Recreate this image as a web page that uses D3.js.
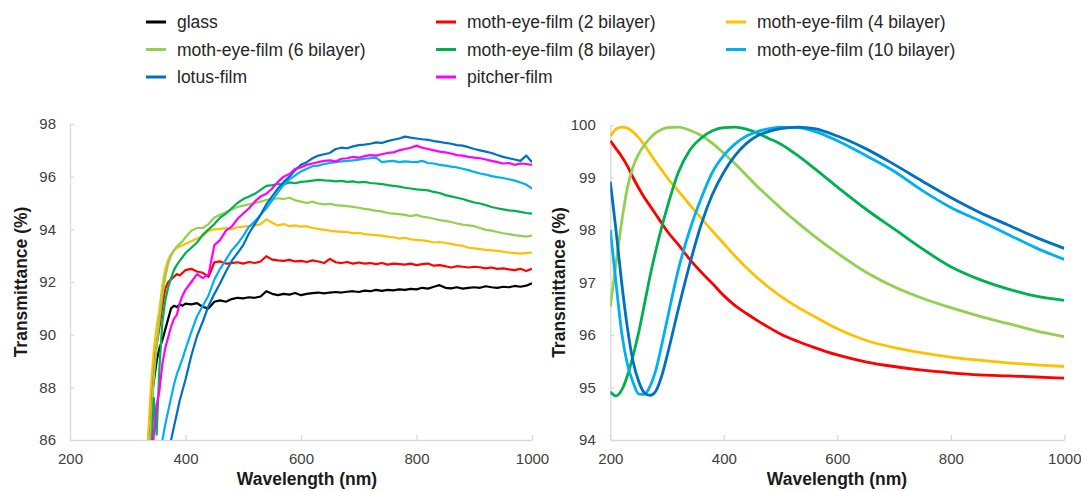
<!DOCTYPE html>
<html><head><meta charset="utf-8">
<script src="https://cdn.jsdelivr.net/npm/d3@7"></script>
<style>body{margin:0;background:#fff}svg{display:block}</style>
</head><body>
<svg id="chart" width="1081" height="491"></svg>
<script>
// ---------- DATA ----------
const seriesNames = ["glass", "moth-eye-film (2 bilayer)", "moth-eye-film (4 bilayer)",
  "moth-eye-film (6 bilayer)", "moth-eye-film (8 bilayer)", "moth-eye-film (10 bilayer)",
  "lotus-film", "pitcher-film"];
const xTickValues = [200, 400, 600, 800, 1000];
const leftYTicks = [86, 88, 90, 92, 94, 96, 98];
const rightYTicks = [94, 95, 96, 97, 98, 99, 100];

// measured spectra (left panel)
const measWavelength = [335,340,345,350,355,360,365,370,375,380,385,390,395,
  400,410,420,430,440,450,460,470,480,490,
  500,510,520,530,540,550,560,570,580,590,
  600,610,620,630,640,650,660,670,680,690,
  700,710,720,730,740,750,760,770,780,790,
  800,810,820,830,840,850,860,870,880,890,
  900,910,920,930,940,950,960,970,980,990,1000];
const glassMeas = [85.8,87.4,88.2,89.0,89.5,89.8,90.2,90.6,91.0,91.1,91.05,91.15,91.1,
  91.18,91.15,91.20,91.05,91.00,91.25,91.30,91.25,91.35,91.40,
  91.38,91.42,91.40,91.45,91.65,91.55,91.50,91.55,91.52,91.58,
  91.50,91.55,91.58,91.60,91.57,91.60,91.62,91.60,91.63,91.65,
  91.62,91.67,91.65,91.70,91.66,91.70,91.68,91.72,91.70,91.74,
  91.72,91.78,91.75,91.82,91.88,91.78,91.76,91.80,91.75,91.78,
  91.80,91.78,91.84,91.80,91.78,91.82,91.80,91.85,91.82,91.86,91.95];
const moth2Meas = [85.5,87.5,89.0,89.6,90.3,91.1,91.75,92.0,92.1,92.2,92.3,92.25,92.35,
  92.45,92.50,92.40,92.35,92.20,92.75,92.78,92.70,92.72,92.75,
  92.70,92.76,92.72,92.78,92.98,92.85,92.82,92.80,92.84,92.78,
  92.80,92.76,92.82,92.78,92.72,92.88,92.75,92.72,92.76,92.70,
  92.74,92.70,92.72,92.68,92.72,92.66,92.70,92.68,92.66,92.70,
  92.64,92.68,92.70,92.62,92.64,92.60,92.55,92.60,92.58,92.55,
  92.58,92.56,92.52,92.55,92.50,92.52,92.48,92.45,92.50,92.42,92.50];
const moth4Meas = [86.0,88.0,89.4,90.3,91.0,91.9,92.5,92.85,93.05,93.2,93.3,93.35,93.4,
  93.45,93.55,93.65,93.75,93.95,94.00,94.02,94.05,94.00,94.08,
  94.10,94.12,94.15,94.20,94.38,94.25,94.15,94.20,94.12,94.15,
  94.10,94.12,94.05,94.02,93.98,93.95,93.92,93.90,93.90,93.85,
  93.87,93.82,93.80,93.78,93.76,93.72,93.70,93.65,93.68,93.62,
  93.60,93.58,93.55,93.50,93.52,93.48,93.45,93.40,93.38,93.30,
  93.28,93.25,93.22,93.20,93.18,93.15,93.12,93.10,93.08,93.10,93.12];
const moth6Meas = [84.5,86.5,88.3,89.6,90.6,91.5,92.2,92.7,93.0,93.2,93.35,93.45,93.55,
  93.70,93.95,94.05,94.05,94.20,94.45,94.55,94.65,94.75,94.85,
  94.90,94.95,95.00,95.05,95.12,95.15,95.18,95.15,95.20,95.10,
  95.05,95.00,95.05,94.98,94.95,94.97,94.92,94.90,94.88,94.85,
  94.82,94.78,94.75,94.70,94.68,94.62,94.60,94.58,94.55,94.50,
  94.55,94.48,94.45,94.40,94.35,94.32,94.28,94.22,94.18,94.15,
  94.12,94.05,93.98,93.95,93.90,93.85,93.82,93.78,93.75,93.72,93.76];
const moth8Meas = [84.0,85.0,87.6,86.2,88.8,90.5,91.3,91.8,92.15,92.45,92.65,92.8,92.95,
  93.10,93.30,93.50,93.80,94.00,94.20,94.45,94.60,94.80,95.00,
  95.15,95.25,95.35,95.50,95.65,95.68,95.72,95.70,95.78,95.75,
  95.80,95.82,95.85,95.88,95.86,95.85,95.82,95.84,95.80,95.82,
  95.78,95.80,95.76,95.74,95.72,95.68,95.65,95.62,95.58,95.55,
  95.52,95.50,95.48,95.42,95.38,95.30,95.25,95.20,95.15,95.08,
  95.02,94.98,94.92,94.85,94.80,94.76,94.72,94.70,94.66,94.62,94.60];
const moth10Meas = [82.0,83.0,84.0,85.0,85.5,86.0,86.6,87.1,87.6,88.1,88.5,88.8,89.1,
  89.45,90.10,90.70,91.10,91.50,92.10,92.50,92.85,93.20,93.45,
  93.75,94.10,94.30,94.55,94.80,95.10,95.40,95.70,95.90,96.05,
  96.20,96.30,96.40,96.42,96.48,96.52,96.55,96.58,96.60,96.62,
  96.65,96.68,96.70,96.72,96.55,96.58,96.60,96.55,96.58,96.56,
  96.55,96.60,96.52,96.50,96.45,96.42,96.38,96.35,96.30,96.25,
  96.18,96.12,96.08,96.02,95.98,95.95,95.90,95.85,95.78,95.70,95.55];
const lotusMeas = [80.0,81.0,82.0,83.0,84.0,84.7,85.2,85.6,86.0,86.5,87.0,87.5,87.9,
  88.30,89.20,89.95,90.50,91.10,91.55,91.95,92.40,92.80,93.10,
  93.40,93.85,94.20,94.55,94.95,95.25,95.55,95.80,96.00,96.25,
  96.45,96.55,96.70,96.80,96.85,96.90,97.05,97.10,97.08,97.15,
  97.20,97.22,97.25,97.30,97.28,97.35,97.40,97.45,97.52,97.48,
  97.45,97.42,97.40,97.35,97.32,97.28,97.25,97.20,97.18,97.12,
  97.05,97.00,96.95,96.90,96.82,96.75,96.70,96.65,96.60,96.80,96.55];
const pitcherMeas = [83.0,84.5,86.2,87.3,87.9,88.9,89.5,89.9,90.3,90.6,90.75,91.2,91.5,
  91.70,92.00,92.30,92.15,92.30,93.40,93.60,93.95,94.10,94.40,
  94.60,94.80,95.05,95.25,95.35,95.55,95.80,96.00,96.10,96.30,
  96.35,96.45,96.50,96.55,96.60,96.62,96.58,96.68,96.70,96.75,
  96.72,96.78,96.82,96.80,96.85,96.90,96.92,97.00,97.05,97.10,
  97.18,97.10,97.05,97.00,96.95,96.92,96.88,96.82,96.80,96.75,
  96.72,96.70,96.65,96.60,96.55,96.50,96.52,96.45,96.50,96.48,96.45];

// simulated spectra (right panel)
const simWavelength = [200,210,220,230,240,250,260,270,280,290,300,320,340,360,380,400,
  420,440,460,480,500,530,560,600,650,700,750,800,850,900,950,1000];
const moth2Sim = [99.70,99.55,99.40,99.22,99.00,98.80,98.62,98.46,98.30,98.14,97.98,97.72,97.44,97.20,96.98,96.75,
  96.56,96.41,96.27,96.14,96.02,95.88,95.76,95.62,95.49,95.40,95.33,95.28,95.24,95.22,95.20,95.18];
const moth4Sim = [99.79,99.92,99.96,99.94,99.87,99.76,99.62,99.46,99.30,99.15,99.00,98.74,98.48,98.23,97.98,97.74,
  97.50,97.28,97.08,96.90,96.74,96.53,96.35,96.12,95.90,95.76,95.66,95.58,95.52,95.47,95.43,95.40];
const moth6Sim = [96.54,97.35,98.15,98.80,99.20,99.45,99.62,99.75,99.85,99.91,99.95,99.96,99.90,99.80,99.65,99.46,
  99.26,99.04,98.82,98.62,98.42,98.14,97.88,97.56,97.20,96.92,96.70,96.52,96.36,96.22,96.08,95.97];
const moth8Sim = [94.92,94.84,94.95,95.22,95.60,96.05,96.58,97.12,97.60,98.03,98.42,99.10,99.52,99.75,99.89,99.95,
  99.96,99.92,99.84,99.74,99.64,99.42,99.17,98.82,98.40,98.02,97.64,97.30,97.06,96.88,96.74,96.66];
const moth10Sim = [98.00,97.00,96.05,95.45,95.10,94.88,94.87,95.02,95.32,95.78,96.28,97.25,98.00,98.60,99.10,99.42,
  99.64,99.79,99.88,99.93,99.96,99.95,99.88,99.70,99.42,99.12,98.75,98.43,98.18,97.92,97.66,97.44];
const lotusSim = [98.92,98.00,97.00,96.15,95.50,95.12,94.90,94.85,94.93,95.20,95.60,96.50,97.35,98.10,98.68,99.10,
  99.42,99.65,99.80,99.88,99.93,99.96,99.93,99.79,99.55,99.25,98.93,98.62,98.34,98.10,97.86,97.65];

// ---------- STYLE ----------
const colors = ["#000000", "#ff0000", "#ffc000", "#92d050", "#00b050", "#00b0f0", "#0070c0", "#ff00ff"];
const FONT = "'Liberation Sans', Arial, Helvetica, sans-serif";
const AXIS_COLOR = "#d9d9d9";
const LABEL_COLOR = "#404040";

const svg = d3.select("#chart");

// ---------- LEGEND ----------
const legendCols = [146, 436, 726];
const legendRows = [22, 49.5, 77];
const legend = svg.append("g");
seriesNames.forEach((name, i) => {
  const cx = legendCols[i % 3], cy = legendRows[Math.floor(i / 3)];
  legend.append("line").attr("x1", cx).attr("x2", cx + 20).attr("y1", cy).attr("y2", cy)
    .attr("stroke", colors[i]).attr("stroke-width", 3);
  legend.append("text").attr("x", cx + 31).attr("y", cy).attr("dy", "0.35em")
    .attr("font-family", FONT).attr("font-size", 17.5).attr("fill", "#262626").text(name);
});

// ---------- PANELS ----------
function drawPanel(cfg) {
  const x = d3.scaleLinear().domain([200, 1000]).range([cfg.left, cfg.right]);
  const y = d3.scaleLinear().domain(cfg.yDomain).range([cfg.bottom, cfg.top]);
  const g = svg.append("g");

  const clipId = "clip" + cfg.id;
  svg.append("clipPath").attr("id", clipId).append("rect")
    .attr("x", cfg.left).attr("y", cfg.top - 2)
    .attr("width", cfg.right - cfg.left).attr("height", cfg.bottom - cfg.top + 2);

  const yAxis = g.append("g").attr("transform", `translate(${cfg.left},0)`)
    .call(d3.axisLeft(y).tickValues(cfg.yTicks).tickSizeInner(-4).tickSizeOuter(0).tickPadding(cfg.yPad)
      .tickFormat(d3.format("d")));
  const xAxis = g.append("g").attr("transform", `translate(0,${cfg.bottom})`)
    .call(d3.axisBottom(x).tickValues(xTickValues).tickSizeInner(-5).tickSizeOuter(0).tickPadding(13)
      .tickFormat(d3.format("d")));
  [xAxis, yAxis].forEach(a => {
    a.select(".domain").attr("stroke", AXIS_COLOR).attr("stroke-width", 1.3);
    a.selectAll(".tick line").attr("stroke", AXIS_COLOR).attr("stroke-width", 1.3);
    a.selectAll(".tick text").attr("font-family", FONT).attr("font-size", 15).attr("fill", LABEL_COLOR);
  });

  const line = d3.line().x(d => x(d[0])).y(d => y(d[1])).curve(cfg.curve);
  const lines = g.append("g").attr("clip-path", `url(#${clipId})`);
  cfg.series.forEach(s => {
    const pts = cfg.wavelengths.map((w, i) => [w, s.values[i]]);
    lines.append("path").datum(pts).attr("d", line).attr("fill", "none")
      .attr("stroke", colors[s.colorIndex]).attr("stroke-width", cfg.lineWidth)
      .attr("stroke-linejoin", "round");
  });

  g.append("text").attr("x", cfg.xTitleX).attr("y", 485).attr("text-anchor", "middle")
    .attr("font-family", FONT).attr("font-size", 17.5).attr("font-weight", "bold").attr("fill", "#1a1a1a")
    .text("Wavelength (nm)");
  g.append("text").attr("transform", `translate(${cfg.yTitleX},${(cfg.top + cfg.bottom) / 2}) rotate(-90)`)
    .attr("text-anchor", "middle").attr("font-family", FONT).attr("font-size", 17.5)
    .attr("font-weight", "bold").attr("fill", "#1a1a1a").text("Transmittance (%)");
}

drawPanel({
  id: "L", left: 70, right: 532, top: 124, bottom: 440, yDomain: [86, 98], yTicks: leftYTicks,
  yPad: 14, wavelengths: measWavelength, curve: d3.curveLinear, lineWidth: 2.2,
  xTitleX: 307, yTitleX: 27,
  series: [
    { values: glassMeas, colorIndex: 0 }, { values: moth2Meas, colorIndex: 1 },
    { values: moth4Meas, colorIndex: 2 }, { values: moth6Meas, colorIndex: 3 },
    { values: moth8Meas, colorIndex: 4 }, { values: moth10Meas, colorIndex: 5 },
    { values: lotusMeas, colorIndex: 6 }, { values: pitcherMeas, colorIndex: 7 }
  ]
});

drawPanel({
  id: "R", left: 610.3, right: 1064.3, top: 125, bottom: 440, yDomain: [94, 100], yTicks: rightYTicks,
  yPad: 14.5, wavelengths: simWavelength, curve: d3.curveMonotoneX, lineWidth: 2.8,
  xTitleX: 837, yTitleX: 565,
  series: [
    { values: moth2Sim, colorIndex: 1 }, { values: moth4Sim, colorIndex: 2 },
    { values: moth6Sim, colorIndex: 3 }, { values: moth8Sim, colorIndex: 4 },
    { values: moth10Sim, colorIndex: 5 }, { values: lotusSim, colorIndex: 6 }
  ]
});
</script>
</body></html>
